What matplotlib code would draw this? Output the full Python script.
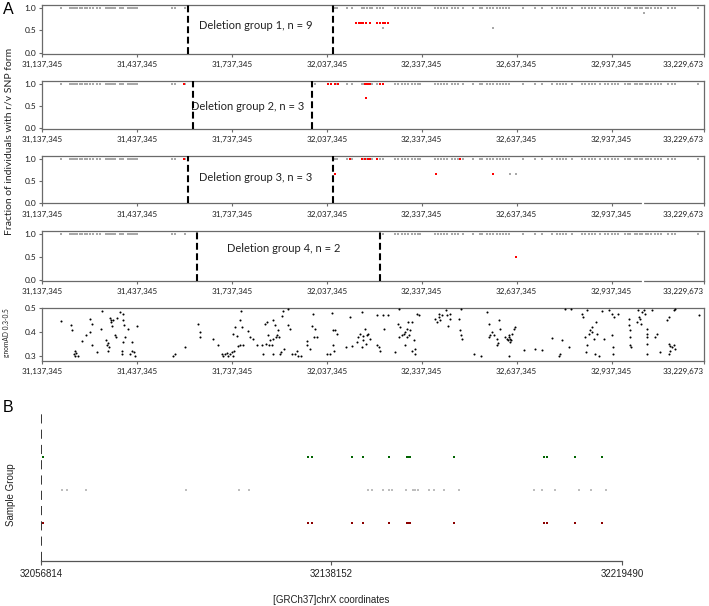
import numpy as np
import matplotlib.pyplot as plt

plt.rcParams['font.family'] = ['Lato', 'DejaVu Sans']

# ---------------- panel A data (chrX positions in Mb) ----------------
tick_pos = [31.137345, 31.437345, 31.737345, 32.037345,
            32.337345, 32.637345, 32.937345, 33.229673]
tick_lab = ['31,137,345', '31,437,345', '31,737,345', '32,037,345',
            '32,337,345', '32,637,345', '32,937,345', '33,229,673']

# SNPs shown in the top row (fraction 1.0) when outside the deletion
snp_pos = [31.197, 31.226, 31.232, 31.235, 31.241, 31.248, 31.257, 31.263,
           31.273, 31.279, 31.289, 31.298, 31.311, 31.320, 31.339, 31.346,
           31.352, 31.358, 31.361, 31.368, 31.383, 31.390, 31.393, 31.409,
           31.415, 31.421, 31.425, 31.431, 31.437, 31.548, 31.557, 31.589,
           31.999, 32.041, 32.050,
           32.063, 32.069, 32.101, 32.117, 32.148, 32.155, 32.164, 32.173,
           32.180, 32.196, 32.205, 32.215, 32.252, 32.262, 32.275, 32.284,
           32.294, 32.306, 32.316, 32.325, 32.331, 32.379, 32.388, 32.398,
           32.407, 32.417, 32.433, 32.442, 32.452, 32.467, 32.499, 32.521,
           32.527, 32.543, 32.553, 32.562, 32.575, 32.584, 32.594, 32.603,
           32.613, 32.657, 32.695, 32.717, 32.749, 32.764, 32.774, 32.783,
           32.793, 32.812, 32.843, 32.853, 32.866, 32.875, 32.884, 32.900,
           32.916, 32.926, 32.938, 32.948, 32.957, 32.979, 32.989, 32.995,
           33.011, 33.017, 33.027, 33.033, 33.046, 33.052, 33.061, 33.074,
           33.084, 33.093, 33.115, 33.128, 33.137, 33.210]

del_start = [31.598, 31.614, 31.598, 31.627]
del_end = [32.0568, 31.990, 32.0568, 32.2065]
del_n = [9, 3, 3, 2]
label_y = [0.60, 0.48, 0.58, 0.68]

red_pos = [
    [32.129, 32.139, 32.145, 32.151, 32.161, 32.173, 32.196, 32.205, 32.215, 32.221, 32.230],
    [31.586, 32.041, 32.050, 32.063, 32.072, 32.158, 32.164, 32.170, 32.173, 32.205, 32.215, 32.160],
    [31.586, 32.110, 32.148, 32.158, 32.167, 32.173, 32.196, 32.458, 32.063, 32.382, 32.562],
    [32.634],
]
red_frac = [
    [0.67] * 11,
    [1.0] * 11 + [0.67],
    [1.0] * 8 + [0.66, 0.66, 0.66],
    [0.5],
]
grey_pos = [[32.215, 32.562, 33.039], [], [32.616, 32.635], []]
grey_frac = [[0.55, 0.55, 0.88], [], [0.66, 0.66], []]

# gnomAD common SNPs (AF 0.3-0.5)
gnomad_pos = [
    31.197, 31.228, 31.233, 31.242, 31.245, 31.238, 31.241, 31.252, 31.263, 31.276,
    31.289, 31.289, 31.294, 31.294, 31.310, 31.326, 31.324, 31.340, 31.342, 31.347,
    31.349, 31.352, 31.354, 31.356, 31.359, 31.361, 31.345, 31.368, 31.370, 31.373,
    31.384, 31.392, 31.389, 31.391, 31.394, 31.397, 31.400, 31.394, 31.410, 31.421,
    31.421, 31.415, 31.428, 31.431, 31.437, 31.552, 31.558, 31.589, 31.631, 31.637,
    31.637, 31.677, 31.695, 31.705, 31.710, 31.716, 31.721, 31.726, 31.732, 31.737,
    31.740, 31.744, 31.742, 31.747, 31.753, 31.758, 31.763, 31.765, 31.763, 31.772,
    31.768, 31.789, 31.795, 31.805, 31.816, 31.832, 31.837, 31.842, 31.845, 31.847,
    31.853, 31.856, 31.858, 31.863, 31.866, 31.869, 31.869, 31.874, 31.877, 31.881,
    31.884, 31.887, 31.890, 31.892, 31.897, 31.900, 31.902, 31.916, 31.916, 31.921,
    31.926, 31.937, 31.942, 31.948, 31.955, 31.974, 31.976, 31.984, 31.990, 31.995,
    31.997, 32.000, 32.005, 32.037, 32.048, 32.053, 32.056, 32.058, 32.060, 32.063,
    32.069, 32.098, 32.111, 32.116, 32.132, 32.137, 32.142, 32.148, 32.151, 32.153,
    32.158, 32.161, 32.163, 32.169, 32.174, 32.148,
    32.196, 32.214, 32.231, 32.265, 32.217, 32.263, 32.265, 32.270, 32.275, 32.281,
    32.286, 32.291, 32.291, 32.294, 32.296, 32.302, 32.307, 32.312, 32.307, 32.317,
    32.315, 32.323, 32.328, 32.196, 32.204, 32.207, 32.254, 32.286, 32.381, 32.386,
    32.391, 32.396, 32.402, 32.391, 32.414, 32.417, 32.428, 32.428, 32.421, 32.454,
    32.463, 32.460, 32.463, 32.465, 32.502, 32.526, 32.544, 32.549, 32.549, 32.554,
    32.565, 32.560, 32.576, 32.579, 32.576, 32.583, 32.586, 32.602, 32.607, 32.610,
    32.612, 32.614, 32.618, 32.621, 32.623, 32.628, 32.633, 32.612, 32.618, 32.660,
    32.697, 32.718, 32.749, 32.770, 32.776, 32.781, 32.789, 32.810, 32.802, 32.844,
    32.846, 32.860, 32.855, 32.860, 32.858, 32.865, 32.870, 32.876, 32.876, 32.881,
    32.886, 32.892, 32.897, 32.888, 32.907, 32.913, 32.930, 32.939, 32.941, 32.944,
    32.958, 32.941, 32.992, 32.994, 32.997, 32.997, 33.000, 33.021, 33.023, 33.028,
    33.034, 33.039, 33.044, 33.018, 33.032, 33.049, 33.049, 33.049, 33.049, 33.065,
    33.081, 33.076, 33.092, 33.113, 33.118, 33.118, 33.123, 33.129, 33.134, 33.121,
    33.118, 33.139, 33.134, 33.139, 33.213, 33.049, 32.939, 32.997,
]
gnomad_af = [
    0.447, 0.431, 0.410, 0.324, 0.313, 0.308, 0.302, 0.301, 0.363, 0.388,
    0.399, 0.456, 0.433, 0.345, 0.317, 0.488, 0.412, 0.366, 0.345, 0.355,
    0.338, 0.460, 0.449, 0.442, 0.424, 0.452, 0.324, 0.387, 0.380, 0.458,
    0.484, 0.477, 0.324, 0.308, 0.449, 0.428, 0.380, 0.359, 0.415, 0.359,
    0.324, 0.310, 0.317, 0.301, 0.426, 0.301, 0.310, 0.338, 0.435, 0.401,
    0.380, 0.370, 0.349, 0.308, 0.303, 0.310, 0.315, 0.303, 0.310, 0.317,
    0.303, 0.321, 0.394, 0.422, 0.383, 0.341, 0.449, 0.488, 0.345, 0.345,
    0.422, 0.405, 0.380, 0.373, 0.345, 0.345, 0.310, 0.435, 0.352, 0.442,
    0.387, 0.345, 0.369, 0.345, 0.452, 0.308, 0.373, 0.428, 0.380, 0.387,
    0.410, 0.380, 0.310, 0.317, 0.466, 0.488, 0.331, 0.494, 0.428, 0.415,
    0.310, 0.310, 0.324, 0.303, 0.303, 0.363, 0.345, 0.331, 0.424, 0.477,
    0.380, 0.415, 0.380, 0.308, 0.308, 0.481, 0.349, 0.408, 0.324, 0.410,
    0.391, 0.338, 0.463, 0.341, 0.359, 0.380, 0.394, 0.484, 0.366, 0.383,
    0.415, 0.352, 0.387, 0.394, 0.373, 0.338,
    0.470, 0.470, 0.470, 0.494, 0.415, 0.435, 0.380, 0.422, 0.387, 0.394,
    0.401, 0.380, 0.415, 0.442, 0.387, 0.408, 0.442, 0.366, 0.324, 0.331,
    0.310, 0.477, 0.470, 0.345, 0.338, 0.324, 0.317, 0.345, 0.456, 0.442,
    0.463, 0.449, 0.470, 0.477, 0.491, 0.470, 0.477, 0.456, 0.424, 0.456,
    0.494, 0.408, 0.387, 0.373, 0.310, 0.303, 0.484, 0.435, 0.380, 0.387,
    0.387, 0.401, 0.373, 0.355, 0.345, 0.449, 0.415, 0.380, 0.373, 0.366,
    0.380, 0.387, 0.373, 0.366, 0.394, 0.415, 0.422, 0.303, 0.359, 0.328,
    0.331, 0.328, 0.376, 0.303, 0.310, 0.366, 0.494, 0.494, 0.338, 0.477,
    0.463, 0.491, 0.380, 0.345, 0.317, 0.394, 0.408, 0.422, 0.401, 0.373,
    0.310, 0.394, 0.303, 0.442, 0.488, 0.373, 0.491, 0.477, 0.310, 0.463,
    0.477, 0.338, 0.456, 0.428, 0.408, 0.380, 0.338, 0.491, 0.463, 0.456,
    0.484, 0.491, 0.477, 0.442, 0.435, 0.415, 0.394, 0.380, 0.352, 0.491,
    0.394, 0.380, 0.317, 0.449, 0.463, 0.352, 0.341, 0.338, 0.345, 0.324,
    0.310, 0.331, 0.491, 0.494, 0.470, 0.310, 0.387, 0.345,
]

# ---------------- panel B data (bp) ----------------
b_ticks = [32056814, 32138152, 32219490]
b_var_pos = [32057458, 32131574, 32132694, 32143894, 32146890, 32154254,
             32159378, 32159770, 32160134, 32172454, 32197654, 32198410,
             32206334, 32213978]
b_ref_pos = [32062610, 32064010, 32069414, 32097414, 32112338, 32114970,
             32148458, 32149410, 32152658, 32154338, 32155010, 32159014,
             32160890, 32161534, 32162458, 32165538, 32166938, 32169738,
             32173938, 32194938, 32197178, 32200734, 32207538, 32210814,
             32214930]

W, H = 709, 606
fig = plt.figure(figsize=(W / 100, H / 100), dpi=100)

frame_col = '#6a6a6a'
x0, x1 = 42, 704
# (top, bottom) pixel rows of the five stacked panels
rows = [(5, 53.5), (80.5, 128.5), (156, 203.5), (231, 280.5), (307.5, 360.5)]


def style_axis(ax, ylim, yticks, ylabels):
    ax.set_xlim(tick_pos[0], tick_pos[-1])
    ax.set_ylim(*ylim)
    ax.set_xticks(tick_pos)
    ax.set_xticklabels(tick_lab)
    labs = ax.get_xticklabels()
    labs[-1].set_ha('right')
    ax.set_yticks(yticks)
    ax.set_yticklabels(ylabels)
    ax.tick_params(axis='x', direction='out', length=2.5, width=0.8,
                   color=frame_col, labelsize=5.8, pad=2.5, labelcolor='#1a1a1a')
    ax.tick_params(axis='y', direction='out', length=2.5, width=0.8,
                   color=frame_col, labelsize=6, pad=1.5, labelcolor='#1a1a1a')
    for s in ax.spines.values():
        s.set_color(frame_col)
        s.set_linewidth(0.9)


for i in range(4):
    top, bot = rows[i]
    ax = fig.add_axes([x0 / W, 1 - bot / H, (x1 - x0) / W, (bot - top) / H])
    style_axis(ax, (-0.02, 1.07), [0, 0.5, 1.0], ['0.0', '0.5', '1.0'])

    pos = np.array(snp_pos)
    keep = (pos < del_start[i]) | (pos > del_end[i])
    ax.scatter(pos[keep], np.ones(keep.sum()), s=1.2, marker='s',
               color='#a8a8a8', linewidths=0, zorder=2)
    if grey_pos[i]:
        ax.scatter(grey_pos[i], grey_frac[i], s=1.2, marker='s',
                   color='#a8a8a8', linewidths=0, zorder=2)
    ax.scatter(red_pos[i], red_frac[i], s=3, marker='s', color='#ff0000',
               linewidths=0, zorder=3)

    for xb in (del_start[i], del_end[i]):
        ax.axvline(xb, color='black', lw=1.5, linestyle=(0, (3.3, 1.7)), zorder=4)
    ax.text((del_start[i] + del_end[i]) / 2 - 0.015, label_y[i],
            'Deletion group %d, n = %d' % (i + 1, del_n[i]),
            ha='center', va='center', fontsize=8, color='#222222')

    if i >= 2:
        # small break in the bottom axis line
        ax.plot([33.0369, 33.0369], [-0.1, 0.05], color='white', lw=1.6,
                clip_on=False, zorder=5)

# gnomAD panel
top, bot = rows[4]
ax5 = fig.add_axes([x0 / W, 1 - bot / H, (x1 - x0) / W, (bot - top) / H])
style_axis(ax5, (0.283, 0.502), [0.3, 0.4, 0.5], ['0.3', '0.4', '0.5'])
ax5.scatter(gnomad_pos, gnomad_af, s=2.2, color='black', linewidths=0, zorder=3)

fig.text(9 / W, 1 - 141 / H, 'Fraction of individuals with r/v SNP form',
         rotation=90, ha='center', va='center', fontsize=7.5, color='#222222')
fig.text(6 / W, 1 - 333 / H, 'gnomAD 0.3-0.5', rotation=90, ha='center',
         va='center', fontsize=4.8, color='#222222')

fig.text(3 / W, 1 - 9 / H, 'A', fontsize=11.5, va='center', ha='left',
         family='Liberation Sans')
fig.text(3 / W, 1 - 408 / H, 'B', fontsize=11.5, va='center', ha='left',
         family='Liberation Sans')

# ---------------- panel B ----------------
bl, bb_top, bb_bot, br_px = 41, 412, 561, 622
axb = fig.add_axes([bl / W, 1 - bb_bot / H, (705 - bl) / W, (bb_bot - bb_top) / H])
span = b_ticks[-1] - b_ticks[0]
axb.set_xlim(b_ticks[0], b_ticks[0] + span * (705 - bl) / (br_px - bl))
axb.set_ylim(-0.15, 4.365)
for s in ('left', 'top', 'right'):
    axb.spines[s].set_visible(False)
axb.spines['bottom'].set_bounds(b_ticks[0], b_ticks[-1])
axb.spines['bottom'].set_color('#555555')
axb.spines['bottom'].set_linewidth(0.9)
axb.set_xticks(b_ticks)
axb.set_xticklabels([str(t) for t in b_ticks], family='Liberation Sans')
axb.tick_params(axis='x', direction='out', length=3, width=0.8, color='#555555',
                labelsize=7, pad=3, labelcolor='#222222')
axb.set_yticks([])
axb.axvline(b_ticks[0], color='black', lw=1.1, linestyle=(0, (6, 4)), zorder=4)

axb.scatter(b_var_pos, [3] * len(b_var_pos), s=4, marker='s', color='#006400',
            linewidths=0, zorder=3)
axb.scatter(b_ref_pos, [2] * len(b_ref_pos), s=3, marker='s', color='#bebebe',
            linewidths=0, zorder=3)
axb.scatter(b_var_pos, [1] * len(b_var_pos), s=4, marker='s', color='#8b0000',
            linewidths=0, zorder=3)

fig.text(11 / W, 1 - 495 / H, 'Sample Group', rotation=90, ha='center',
         va='center', fontsize=7, family='Liberation Sans', color='#222222')
fig.text(331 / W, 1 - 600 / H, '[GRCh37]chrX coordinates', ha='center',
         va='center', fontsize=7, family='Liberation Sans', color='#222222')

fig.savefig('out.png', dpi=100)
